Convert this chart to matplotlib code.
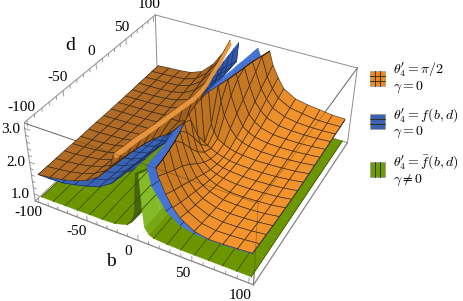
import numpy as np
import matplotlib
matplotlib.use('Agg')
import matplotlib.pyplot as plt
from matplotlib.patches import Rectangle
from mpl_toolkits.mplot3d import proj3d
from mpl_toolkits.mplot3d.art3d import Poly3DCollection

plt.rcParams['font.family'] = ['Liberation Serif', 'DejaVu Serif']
plt.rcParams['mathtext.fontset'] = 'cm'

# limites de la caja y vista
box = 104
zb, zt = 0.77, 3.16
top = 3.05

# filas en d, comunes a naranja y azul
d_rows = [-100, -87.5, -75, -62.5, -50, -37.5, -25, -12.5, 0, 12.5, 25, 37.5, 50, 62.5, 75, 87.5, 100]

# naranja b<0
orange_left_b = [-100, -87.5, -75, -62.5, -50, -37.5, -25, -12.5, -6]
orange_left_cut = [-21, -19, -17.5, -15, -13, -11, -9, -7, -5, -5, -6, -8.5, -10.5, -12.5, -15, -17.5, -20]
orange_left_z = [
    [1.58, 1.63, 1.70, 1.80, 1.95, 2.20, 2.65, 3.05, 3.05],
    [1.58, 1.62, 1.68, 1.77, 1.91, 2.14, 2.58, 3.05, 3.05],
    [1.58, 1.61, 1.66, 1.74, 1.87, 2.08, 2.50, 3.05, 3.05],
    [1.58, 1.60, 1.65, 1.71, 1.83, 2.02, 2.42, 3.05, 3.05],
    [1.57, 1.59, 1.63, 1.68, 1.79, 1.96, 2.33, 3.05, 3.05],
    [1.57, 1.58, 1.61, 1.66, 1.75, 1.89, 2.22, 2.95, 3.05],
    [1.57, 1.58, 1.60, 1.63, 1.70, 1.82, 2.08, 2.75, 3.05],
    [1.57, 1.57, 1.59, 1.61, 1.65, 1.73, 1.92, 2.45, 3.05],
    [1.56, 1.57, 1.58, 1.60, 1.62, 1.68, 1.82, 2.25, 2.95],
    [1.56, 1.57, 1.58, 1.59, 1.61, 1.66, 1.78, 2.20, 2.95],
    [1.56, 1.57, 1.58, 1.59, 1.62, 1.70, 1.85, 2.35, 3.05],
    [1.56, 1.57, 1.58, 1.60, 1.64, 1.74, 1.96, 2.60, 3.05],
    [1.56, 1.57, 1.58, 1.61, 1.67, 1.81, 2.10, 2.85, 3.05],
    [1.57, 1.58, 1.59, 1.62, 1.70, 1.90, 2.28, 3.05, 3.05],
    [1.57, 1.59, 1.60, 1.63, 1.73, 1.98, 2.42, 3.05, 3.05],
    [1.57, 1.59, 1.61, 1.64, 1.76, 2.06, 2.56, 3.05, 3.05],
    [1.57, 1.60, 1.62, 1.66, 1.80, 2.15, 2.70, 3.05, 3.05],
]

# naranja b>0
orange_right_b = [6, 9, 12.5, 18.75, 25, 31, 37.5, 50, 62.5, 75, 87.5, 100]
orange_right_cut = [17, 16, 14.5, 12.5, 10, 7, 4.5, 3, 2.5, 3, 6, 8.5, 11, 13, 15, 18, 21]
orange_right_z = [
    [3.05, 3.05, 3.05, 2.85, 2.40, 2.08, 1.85, 1.60, 1.52, 1.53, 1.56, 1.59],
    [3.05, 3.05, 3.05, 2.68, 2.25, 1.96, 1.76, 1.55, 1.49, 1.50, 1.53, 1.57],
    [3.05, 3.05, 3.05, 2.52, 2.12, 1.86, 1.68, 1.51, 1.46, 1.47, 1.50, 1.55],
    [3.05, 3.05, 3.05, 2.38, 1.98, 1.76, 1.61, 1.47, 1.44, 1.45, 1.48, 1.53],
    [3.05, 3.05, 2.75, 2.18, 1.84, 1.67, 1.55, 1.44, 1.42, 1.43, 1.46, 1.52],
    [3.05, 2.80, 2.35, 1.95, 1.70, 1.58, 1.49, 1.41, 1.40, 1.42, 1.45, 1.51],
    [2.90, 2.40, 2.00, 1.74, 1.58, 1.50, 1.44, 1.39, 1.39, 1.41, 1.44, 1.50],
    [2.20, 1.95, 1.75, 1.60, 1.50, 1.45, 1.41, 1.38, 1.38, 1.40, 1.44, 1.50],
    [1.75, 1.68, 1.62, 1.53, 1.47, 1.43, 1.40, 1.38, 1.38, 1.40, 1.44, 1.50],
    [2.10, 1.88, 1.70, 1.58, 1.50, 1.45, 1.42, 1.39, 1.40, 1.42, 1.45, 1.51],
    [3.05, 2.60, 2.20, 1.85, 1.62, 1.53, 1.47, 1.42, 1.42, 1.44, 1.47, 1.52],
    [3.05, 3.05, 2.60, 2.10, 1.75, 1.62, 1.53, 1.46, 1.45, 1.46, 1.49, 1.53],
    [3.05, 3.05, 2.90, 2.32, 1.92, 1.73, 1.60, 1.50, 1.48, 1.48, 1.50, 1.54],
    [3.05, 3.05, 3.05, 2.55, 2.10, 1.87, 1.70, 1.56, 1.52, 1.51, 1.52, 1.55],
    [3.05, 3.05, 3.05, 2.78, 2.30, 2.02, 1.80, 1.63, 1.56, 1.54, 1.54, 1.56],
    [3.05, 3.05, 3.05, 3.05, 2.48, 2.15, 1.90, 1.70, 1.63, 1.57, 1.56, 1.57],
    [3.05, 3.05, 3.05, 3.05, 2.65, 2.30, 2.00, 1.78, 1.70, 1.65, 1.60, 1.59],
]

# azul b<0
blue_left_b = [-100, -87.5, -75, -62.5, -50, -37.5, -25, -12.5, -6, 5]
blue_left_cut = [-2, 0, 2, 3, 3, 2.5, 1.5, 0, 0, -2, -4, -5.5, -7, -8, -9, -10, -11]
blue_left_z = [
    [1.58, 1.58, 1.60, 1.68, 1.78, 1.90, 2.15, 2.62, 2.72, 2.85],
    [1.57, 1.57, 1.59, 1.65, 1.74, 1.86, 2.08, 2.55, 2.72, 2.88],
    [1.56, 1.56, 1.58, 1.63, 1.71, 1.82, 2.02, 2.48, 2.72, 2.92],
    [1.55, 1.55, 1.57, 1.61, 1.68, 1.78, 1.96, 2.42, 2.72, 2.95],
    [1.54, 1.54, 1.56, 1.59, 1.65, 1.74, 1.90, 2.35, 2.70, 2.98],
    [1.53, 1.53, 1.55, 1.58, 1.62, 1.70, 1.84, 2.25, 2.65, 3.00],
    [1.53, 1.53, 1.54, 1.56, 1.60, 1.66, 1.78, 2.15, 2.55, 3.00],
    [1.52, 1.53, 1.53, 1.55, 1.58, 1.62, 1.72, 2.05, 2.45, 3.00],
    [1.52, 1.52, 1.53, 1.54, 1.56, 1.60, 1.68, 1.95, 2.30, 2.90],
    [1.52, 1.53, 1.53, 1.55, 1.57, 1.62, 1.72, 2.00, 2.40, 3.00],
    [1.53, 1.53, 1.54, 1.56, 1.59, 1.66, 1.78, 2.10, 2.60, 3.05],
    [1.53, 1.54, 1.55, 1.57, 1.62, 1.70, 1.84, 2.20, 2.75, 3.05],
    [1.54, 1.55, 1.56, 1.58, 1.65, 1.74, 1.90, 2.30, 2.90, 3.05],
    [1.55, 1.55, 1.57, 1.60, 1.68, 1.78, 1.97, 2.38, 3.05, 3.05],
    [1.55, 1.56, 1.58, 1.62, 1.71, 1.82, 2.04, 2.42, 3.05, 3.05],
    [1.56, 1.56, 1.58, 1.63, 1.73, 1.85, 2.10, 2.44, 3.05, 3.05],
    [1.56, 1.57, 1.59, 1.64, 1.75, 1.88, 2.15, 2.45, 3.05, 3.05],
]

# azul b>0
blue_right_b = [6, 12.5, 25, 37.5, 50, 62.5, 75, 87.5, 100]
blue_right_cut = [9, 8.5, 8, 7, 6, 4.5, 3, 2, 2, 2, 2.5, 3.5, 4.5, 5.5, 7, 8, 9]
blue_right_z = [
    [3.00, 2.50, 1.90, 1.62, 1.53, 1.50, 1.51, 1.54, 1.57],
    [3.00, 2.40, 1.82, 1.57, 1.50, 1.47, 1.48, 1.51, 1.55],
    [3.00, 2.30, 1.75, 1.53, 1.46, 1.44, 1.45, 1.48, 1.53],
    [3.00, 2.15, 1.68, 1.49, 1.43, 1.42, 1.43, 1.46, 1.51],
    [3.00, 2.00, 1.60, 1.45, 1.40, 1.40, 1.41, 1.44, 1.50],
    [2.90, 1.85, 1.54, 1.42, 1.38, 1.38, 1.40, 1.43, 1.49],
    [2.60, 1.70, 1.48, 1.39, 1.36, 1.37, 1.39, 1.42, 1.48],
    [2.10, 1.60, 1.44, 1.37, 1.35, 1.36, 1.38, 1.42, 1.48],
    [1.70, 1.50, 1.40, 1.35, 1.35, 1.36, 1.38, 1.42, 1.48],
    [2.00, 1.58, 1.43, 1.37, 1.36, 1.37, 1.39, 1.43, 1.49],
    [2.60, 1.75, 1.50, 1.40, 1.38, 1.38, 1.41, 1.44, 1.50],
    [2.90, 1.95, 1.57, 1.44, 1.41, 1.41, 1.43, 1.46, 1.51],
    [3.05, 2.15, 1.65, 1.49, 1.44, 1.43, 1.45, 1.48, 1.52],
    [3.05, 2.30, 1.72, 1.53, 1.47, 1.46, 1.47, 1.50, 1.53],
    [3.05, 2.50, 1.80, 1.58, 1.50, 1.49, 1.49, 1.51, 1.54],
    [3.05, 2.65, 1.90, 1.64, 1.53, 1.51, 1.51, 1.52, 1.55],
    [3.05, 2.80, 2.00, 1.70, 1.57, 1.54, 1.53, 1.53, 1.56],
]

# verde
green_left_b = [-100, -87.5, -75, -62.5, -50, -37.5, -25, -12.5, -8, -5, -2]
green_right_b = [1, 2.5, 4, 8, 12.5, 25, 37.5, 50, 62.5, 75, 87.5, 100]
green_d = [-100, -75, -50, -25, 0, 50, 100]
green_left_z = [
    [.86, .86, .87, .87, .88, .88, .90, 1.02, 1.15, 1.50, 2.70],
    [.86, .86, .86, .87, .87, .88, .89, .98, 1.10, 1.35, 2.40],
    [.86, .86, .86, .86, .87, .87, .88, .95, 1.05, 1.20, 2.00],
    [.86, .86, .86, .86, .86, .87, .87, .92, 1.00, 1.10, 1.60],
    [.86, .86, .86, .86, .86, .86, .86, .90, .95, 1.05, 1.30],
    [.86, .86, .86, .86, .86, .86, .86, .90, .95, 1.05, 1.30],
    [.86, .86, .86, .86, .86, .86, .86, .90, .95, 1.05, 1.30],
]
green_right_z = [
    [2.70, 1.75, 1.15, .96, .90, .87, .86, .86, .86, .86, .86, .86],
    [2.40, 1.60, 1.12, .95, .89, .87, .86, .86, .86, .86, .86, .86],
    [2.00, 1.45, 1.08, .93, .88, .86, .86, .86, .86, .86, .86, .86],
    [1.60, 1.30, 1.03, .91, .87, .86, .86, .86, .86, .86, .86, .86],
    [1.30, 1.15, 1.00, .90, .87, .86, .86, .86, .86, .86, .86, .86],
    [1.30, 1.15, 1.00, .90, .87, .86, .86, .86, .86, .86, .86, .86],
    [1.30, 1.15, 1.00, .90, .87, .86, .86, .86, .86, .86, .86, .86],
]

# ejes
axis_ticks = [-100, -50, 0, 50, 100]
minor_ticks = list(range(-100, 101, 10))
z_ticks = [1.0, 2.0, 3.0]
z_minor = [1.0, 1.2, 1.4, 1.6, 1.8, 2.0, 2.2, 2.4, 2.6, 2.8, 3.0]

# leyenda
legend_lines = [
    (r"$\theta^{\prime}_{4}=\pi/2$", r"$\gamma=0$"),
    (r"$\theta^{\prime}_{4}=f(b,d)$", r"$\gamma=0$"),
    (r"$\theta^{\prime}_{4}=\bar{f}(b,d)$", r"$\gamma\neq 0$"),
]
legend_colors = ['#E98A22', '#3A62B0', '#6E9A08']

ORANGE_R = ((243, 148, 45), (188, 114, 32))
ORANGE_L = ((176, 108, 38), (156, 94, 28))
STRIP = ((232, 150, 62), (232, 150, 62))
BLUE_L = ((58, 100, 182), (48, 88, 170))
BLUE_R = ((72, 122, 222), (66, 112, 210))
GREEN_L = ((107, 150, 0), (70, 100, 12))
GREEN_R = ((107, 150, 0), (134, 188, 42))
ZH = 0.397


def clamp_grid(cols, rows, z, cut, wall=False):
    # los nodos mas alla del corte quedan sobre la linea de corte
    B = np.tile(np.array(cols, float), (len(rows), 1))
    Z = np.array(z, float)
    c = np.array(cut, float)[:, None]
    left = cols[0] < 0
    inner = (B > c) if left else (B < c)
    B = np.where(inner, c, B)
    if wall:
        # pared final hasta lo alto de la caja
        zw = np.full((len(rows), 1), top)
        B = np.hstack([B, c]) if left else np.hstack([c, B])
        Z = np.hstack([Z, zw]) if left else np.hstack([zw, Z])
    D = np.tile(np.array(rows, float)[:, None], (1, B.shape[1]))
    return B, D, Z


def quads(B, D, Z):
    polys = []
    for i in range(B.shape[0] - 1):
        for j in range(B.shape[1] - 1):
            polys.append([(B[i, j], D[i, j], Z[i, j]), (B[i, j+1], D[i, j+1], Z[i, j+1]),
                          (B[i+1, j+1], D[i+1, j+1], Z[i+1, j+1]), (B[i+1, j], D[i+1, j], Z[i+1, j])])
    return np.array(polys)


def shade(polys, pal, gain):
    flat = np.array(pal[0]) / 255
    steep = np.array(pal[1]) / 255
    s = np.array([1 / 208, 1 / 208, ZH / (zt - zb)])
    p = polys * s
    n = np.cross(p[:, 2] - p[:, 0], p[:, 3] - p[:, 1])
    t = 1 - np.abs(n[:, 2]) / (np.linalg.norm(n, axis=1) + 1e-12)
    t = np.clip(t * gain, 0, 1)[:, None]
    return flat + (steep - flat) * t


def add_sheet(ax, B, D, Z, pal, order, edge=None, gain=1.2):
    polys = quads(B, D, Z)
    col = shade(polys, pal, gain)
    if edge is None:
        coll = Poly3DCollection(polys, facecolors=col, edgecolors=col, linewidths=0.25)
    else:
        coll = Poly3DCollection(polys, facecolors=col, edgecolors=[edge], linewidths=0.5)
    coll.set_zorder(order)
    ax.add_collection3d(coll, autolim=False)


def edge3d(ax, a, b, color='#8c8c8c', lw=0.7, order=1, alpha=1.0):
    ax.plot([a[0], b[0]], [a[1], b[1]], [a[2], b[2]], color=color, lw=lw, zorder=order, alpha=alpha)


# 463x301 px; la caja 3D ocupa un cuadrado de 339 px
fig = plt.figure(figsize=(4.63, 3.01), dpi=100)
S = 338.9
ax = fig.add_axes([24.45 / 463, -6.59 / 301, S / 463, S / 301], projection='3d', computed_zorder=False)
ax.set_proj_type('persp', focal_length=0.461)
ax.view_init(36.085, -61.831, -0.123)
ax.set_box_aspect((1, 1, ZH))
ax.set_xlim(-box, box)
ax.set_ylim(-box, box)
ax.set_zlim(zb, zt)
ax.set_axis_off()
ax.patch.set_alpha(0)

# caja, lado de atras
c = {}
for bb in (-box, box):
    for dd in (-box, box):
        for zz, nm in ((zb, 'b'), (zt, 't')):
            c[(bb, dd, nm)] = (bb, dd, zz)
back = [((-box, box, 't'), (box, box, 't')), ((-box, box, 't'), (-box, -box, 't')),
        ((-box, box, 't'), (-box, box, 'b')), ((-box, -box, 't'), (-box, -box, 'b')),
        ((box, box, 't'), (box, box, 'b')), ((-box, box, 'b'), (box, box, 'b')),
        ((-box, box, 'b'), (-box, -box, 'b')), ((-box, -box, 't'), (box, -box, 't')),
        ((box, box, 't'), (box, -box, 't'))]
front = [((-box, -box, 'b'), (box, -box, 'b')), ((box, -box, 'b'), (box, box, 'b')),
         ((box, -box, 'b'), (box, -box, 't'))]
for a, b in back + front:
    edge3d(ax, c[a], c[b], order=1)

# verde
B, D = np.meshgrid(green_left_b, green_d)
add_sheet(ax, B, D, np.array(green_left_z), GREEN_L, 2, gain=1.5)
for j, bv in enumerate(green_left_b):
    if bv % 12.5 == 0:
        ax.plot(B[:, j], D[:, j], np.array(green_left_z)[:, j], color='#3c5204', lw=0.6, zorder=3)
B, D = np.meshgrid(green_right_b, green_d)
add_sheet(ax, B, D, np.array(green_right_z), GREEN_R, 2, gain=1.0)
for j, bv in enumerate(green_right_b):
    if bv % 12.5 == 0:
        ax.plot(B[:, j], D[:, j], np.array(green_right_z)[:, j], color='#3c5204', lw=0.6, zorder=3)

# azul
B, D, Z = clamp_grid(blue_left_b, d_rows, blue_left_z, blue_left_cut)
add_sheet(ax, B, D, Z, BLUE_L, 4)
for j in range(B.shape[1] - 2):
    ax.plot(B[:, j], D[:, j], Z[:, j], color='#1d3263', lw=0.55, zorder=5)
for i in range(B.shape[0]):
    ax.plot(B[i], D[i], Z[i], color='#1d3263', lw=0.55, zorder=5)
B, D, Z = clamp_grid(blue_right_b, d_rows, blue_right_z, blue_right_cut, wall=True)
add_sheet(ax, B, D, Z, BLUE_R, 6)
for j in range(2, B.shape[1]):
    ax.plot(B[:, j], D[:, j], Z[:, j], color='#1d3263', lw=0.55, zorder=7)

# naranja
mesh = (0.22, 0.13, 0.04, 0.8)
B, D, Z = clamp_grid(orange_left_b, d_rows, orange_left_z, orange_left_cut, wall=True)
add_sheet(ax, B, D, Z, ORANGE_L, 8, mesh)
cut = np.array(orange_left_cut, float)
Bs = np.c_[cut, cut + 1.5]
Ds = np.c_[d_rows, d_rows]
Zs = np.c_[np.full(len(d_rows), top), np.full(len(d_rows), top - 0.12)]
add_sheet(ax, Bs, Ds, Zs, STRIP, 9)
B, D, Z = clamp_grid(orange_right_b, d_rows, orange_right_z, orange_right_cut, wall=True)
add_sheet(ax, B, D, Z, ORANGE_R, 10, mesh)

# aristas delanteras sobre las superficies
for a, b in [((-box, -box, 't'), (box, -box, 't')), ((box, box, 't'), (box, -box, 't')),
             ((box, -box, 'b'), (box, -box, 't'))]:
    edge3d(ax, c[a], c[b], color='#3a2a10', lw=0.55, order=11, alpha=0.4)
for a, b in front[:2]:
    edge3d(ax, c[a], c[b], order=11)

# marcas de los ejes
for t in minor_ticks:
    lg = 0.16 if t in axis_ticks else 0.09
    ax.plot([t, t], [-box, -box], [zb, zb + lg], color='#8c8c8c', lw=0.6, zorder=12)
    ax.plot([-box, -box], [t, t], [zt, zt - lg], color='#8c8c8c', lw=0.6, zorder=12)
for t in z_minor:
    lg = 5 if t in z_ticks else 3
    ax.plot([-box, -box + lg], [-box, -box], [t, t], color='#8c8c8c', lw=0.6, zorder=12)


def label3d(x, y, z, s, ha='center'):
    # texto 2D en la posicion proyectada del punto 3D
    X, Y, _ = proj3d.proj_transform(x, y, z, ax.get_proj())
    ax.text2D(X, Y, s, transform=ax.transData, fontsize=11, ha=ha, va='center', zorder=13)


# rotulos
for t in axis_ticks:
    label3d(t, -box - 15, zb, str(t))
    label3d(-box - 4, t, zt + 0.34, str(t))
for t in z_ticks:
    label3d(-box - 5, -box, t - 0.07, '%.1f' % t, ha='right')

# capa plana para titulos y leyenda, en pixeles
ov = fig.add_axes([0, 0, 1, 1])
ov.set_xlim(0, 463)
ov.set_ylim(301, 0)
ov.axis('off')
ov.text(111, 262, 'b', fontsize=14, ha='center', va='center')
ov.text(70, 45, 'd', fontsize=14, ha='center', va='center')
swatch_y = [71, 114, 162]
text_y = [(69.5, 87), (116, 132), (163, 180)]
for k, y in enumerate(swatch_y):
    ov.add_patch(Rectangle((369.5, y), 15, 15, facecolor=legend_colors[k], edgecolor='#9a9a9a', lw=0.5))
    if k in (0, 1):
        for f in (1 / 3, 2 / 3):
            ov.plot([369.5, 384.5], [y + 15 * f, y + 15 * f], color='#2c2410', lw=0.6)
    if k in (0, 2):
        for f in (1 / 3, 2 / 3):
            ov.plot([369.5 + 15 * f, 369.5 + 15 * f], [y, y + 15], color='#2c2410', lw=0.6)
    ov.text(393, text_y[k][0], legend_lines[k][0], fontsize=10, va='center', ha='left')
    ov.text(393, text_y[k][1], legend_lines[k][1], fontsize=10, va='center', ha='left')

fig.savefig('out.png', dpi=100)
